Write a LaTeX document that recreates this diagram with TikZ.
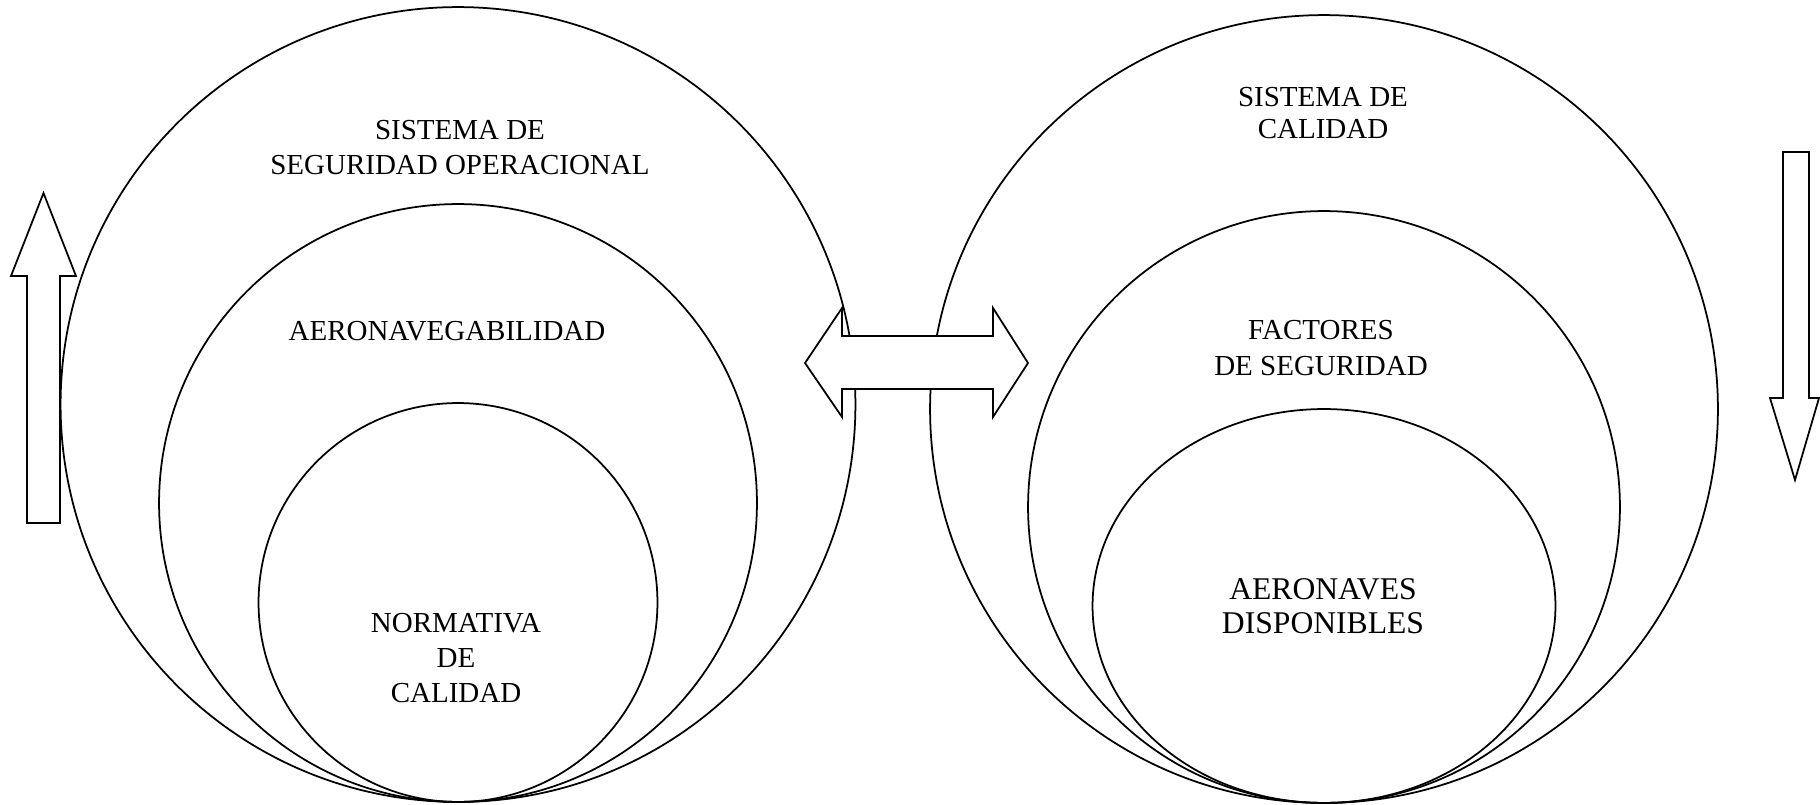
\documentclass[tikz,border=0pt]{standalone}
\usepackage{fontspec}
\setmainfont{Liberation Serif}
\usepackage{tikz}
\usetikzlibrary{shapes.geometric}
\usetikzlibrary{positioning}
\tikzset{every picture/.style={line width=1pt}}

\begin{document}
\begin{tikzpicture}[x=0.02cm, y=-0.02cm,
every node/.style={font=\fontsize{16.5}{20}\selectfont, align=center},
ring/.style={circle, draw, inner sep=0pt},
oval/.style={ellipse, draw, inner sep=0pt},
fatarrow/.style={draw, fill=white, line join=miter}]

\useasboundingbox (0,0) rectangle (1820,805);

% left group
\node (seg) at (458,404.5) [ring, minimum size=15.9cm] {};
\node (aer) at (458,503) [ring, minimum size=11.96cm] {};
\node (nor) at (458,602.5) [ring, minimum size=7.98cm] {};

\node (tseg) at (460,147.5) {SISTEMA DE\\SEGURIDAD OPERACIONAL};
\node (taer) at (447,331) {AERONAVEGABILIDAD};
\node (tnor) at (456,658) {NORMATIVA\\DE\\CALIDAD};

% right group
\node (cal) at (1324,409) [ring, minimum size=15.76cm] {};
\node (fac) at (1324,507) [ring, minimum size=11.84cm] {};
\node (dis) at (1324,606) [oval, minimum width=9.26cm, minimum height=7.88cm] {};

\node (tcal) at (1323,113) [font=\fontsize{16.5}{17.8}\selectfont] {SISTEMA DE\\CALIDAD};
\node (tfac) at (1321,348) {FACTORES\\DE SEGURIDAD};
\node (tdis) at (1323,606.5) [font=\fontsize{18}{19.5}\selectfont] {AERONAVES\\DISPONIBLES};

% arrows
\draw [fatarrow] (27,523) -- (27,276) -- (11,276) -- (43.5,193) -- (76,276) -- (60,276) -- (60,523) -- cycle;
\draw [fatarrow] (1783,152) -- (1809,152) -- (1809,398) -- (1819,398) -- (1795,480) -- (1770,398) -- (1783,398) -- cycle;
\draw [fatarrow] (805,363) -- (842,308) -- (842,336) -- (993,336) -- (993,308) -- (1028,363)
  -- (993,417) -- (993,389) -- (842,389) -- (842,417) -- cycle;

\end{tikzpicture}
\end{document}
